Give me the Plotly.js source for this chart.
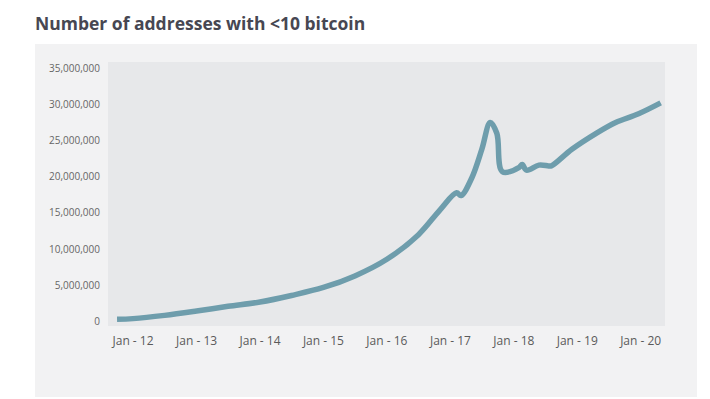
<!DOCTYPE html>
<html>
<head>
<meta charset="utf-8">
<script src="https://cdn.plot.ly/plotly-3.0.1.min.js"></script>
<style>
html,body{margin:0;padding:0;background:#fff;}
#chart{width:710px;height:399px;}
</style>
</head>
<body>
<div id="chart"></div>
<script>
// Data
var dates = ["2011-10-01","2012-01-01","2012-07-01","2013-01-01","2013-07-01","2014-01-01","2014-07-01",
  "2015-01-01","2015-07-01","2016-01-01","2016-07-01","2016-11-01","2017-02-05",
  "2017-03-03","2017-05-05","2017-07-01","2017-08-18","2017-09-25","2017-10-27","2018-02-01",
  "2018-02-18","2018-03-15","2018-05-25","2018-07-20","2018-08-05","2018-12-01","2019-04-20",
  "2019-08-10","2019-12-20","2020-04-25"];
var addresses = [0.3,0.4,0.85,1.45,2.1,2.7,3.6,4.7,6.3,8.6,12.0,15.4,17.8,17.4,19.9,23.8,27.5,
  26.0,20.7,21.3,21.7,20.9,21.6,21.5,21.5,23.8,26.0,27.5,28.7,30.2].map(function(v){return v*1e6;});
var tickDates = ["2012-01-01","2013-01-01","2014-01-01","2015-01-01","2016-01-01","2017-01-01",
  "2018-01-01","2019-01-01","2020-01-01"];
var tickLabels = ["Jan - 12","Jan - 13","Jan - 14","Jan - 15","Jan - 16","Jan - 17","Jan - 18","Jan - 19","Jan - 20"];
var yTicks = [0,5000000,10000000,15000000,20000000,25000000,30000000,35000000];

var plotW = 557, plotH = 264, L = 108, T = 62;
function px(x){return (x-L)/plotW;}
function py(y){return (T+plotH-y)/plotH;}

var trace = {
  x: dates, y: addresses, type: 'scatter', mode: 'lines',
  line: {color: '#6e9dac', width: 5.5, shape: 'spline', smoothing: 1.0},
  hoverinfo: 'skip'
};

var layout = {
  width: 710, height: 399,
  margin: {l: L, r: 710-L-plotW, t: T, b: 399-T-plotH},
  paper_bgcolor: '#ffffff',
  plot_bgcolor: '#e7e8ea',
  showlegend: false,
  font: {family: 'Open Sans, sans-serif', color: '#555'},
  title: {
    text: 'Number of addresses with &lt;10 bitcoin',
    font: {family: 'Open Sans, sans-serif', size: 17.5, color: '#474752', weight: 700},
    xref: 'container', yref: 'container', x: 35/710, xanchor: 'left', y: 1-24/399, yanchor: 'middle'
  },
  shapes: [
    {type:'rect', xref:'paper', yref:'paper', layer:'below',
     x0: px(35), x1: px(697), y0: py(397), y1: py(44), fillcolor:'#f2f2f3', line:{width:0}},
    {type:'rect', xref:'paper', yref:'paper', layer:'below',
     x0: 0, x1: 1, y0: 0, y1: 1, fillcolor:'#e7e8ea', line:{width:0}}
  ],
  xaxis: {
    type: 'date',
    range: ['2011-08-10','2020-05-20'],
    tickvals: tickDates, ticktext: tickLabels,
    showgrid: false, zeroline: false, showline: false,
    ticks: 'outside', ticklen: 4, tickcolor: 'rgba(0,0,0,0)',
    tickfont: {size: 12, color: '#5a5a5a', family: 'Open Sans, sans-serif'},
    fixedrange: true
  },
  yaxis: {
    range: [-620000, 35850000],
    tickvals: yTicks, tickformat: ',d',
    showgrid: false, zeroline: false, showline: false,
    ticks: 'outside', ticklen: 5, tickcolor: 'rgba(0,0,0,0)',
    tickfont: {size: 10, color: '#666', family: 'Open Sans, sans-serif'},
    fixedrange: true
  }
};

Plotly.newPlot('chart', [trace], layout, {displayModeBar: false, staticPlot: true});
</script>
</body>
</html>
